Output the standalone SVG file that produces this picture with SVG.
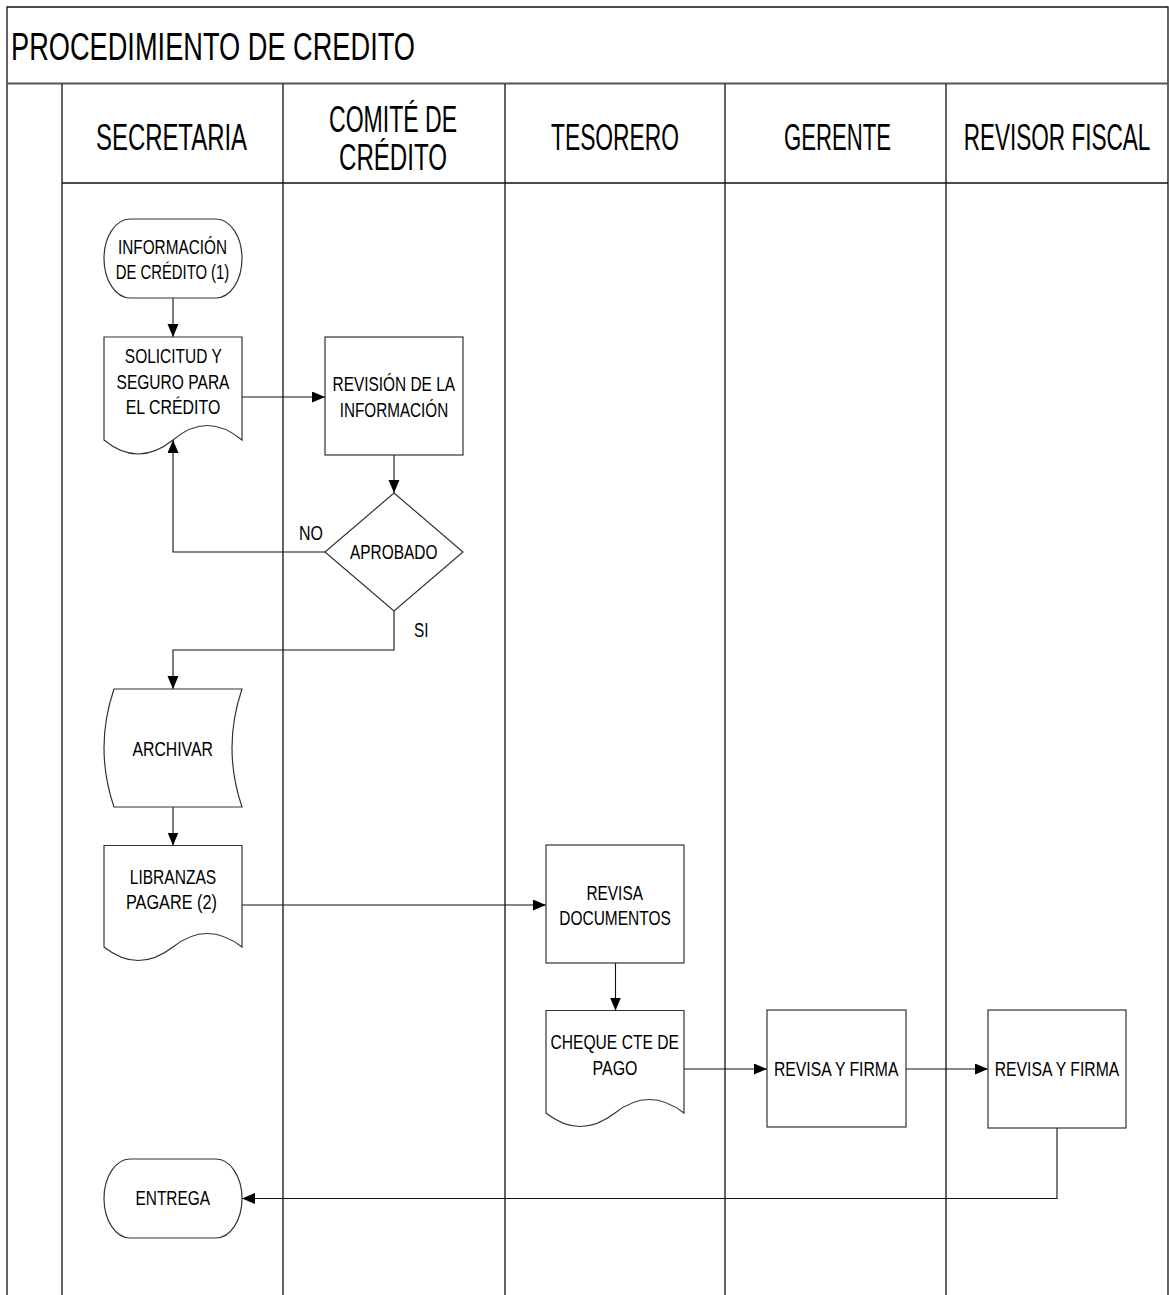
<svg xmlns="http://www.w3.org/2000/svg" width="1169" height="1295" viewBox="0 0 1169 1295">
<style>
.frame{fill:none;stroke:#111;stroke-width:1.3}
.sep{fill:none;stroke:#555;stroke-width:2.2}
.shape{fill:#fff;stroke:#333;stroke-width:1.2}
.conn{fill:none;stroke:#111;stroke-width:1.1}
.t{font-family:"Liberation Sans",Arial,sans-serif;font-size:21px;fill:#000;text-anchor:middle}
.h{font-family:"Liberation Sans",Arial,sans-serif;font-size:37px;fill:#000;text-anchor:middle}
.title{font-family:"Liberation Sans",Arial,sans-serif;font-size:38.5px;fill:#000}
</style>
<defs>
<marker id="arr" markerUnits="userSpaceOnUse" markerWidth="14" markerHeight="12" refX="13" refY="5.5" orient="auto">
<path d="M0,0 L13,5.5 L0,11 Z" fill="#000"/>
</marker>
</defs>
<rect x="0" y="0" width="1169" height="1295" fill="#fff"/>
<g id="frame">
<path class="frame" d="M7,1295 V7 H1168 V1295"/>
<path class="sep" d="M7,83.5 H1168"/>
<path class="frame" d="M62,84 V1295 M283,84 V1295 M505,84 V1295 M725,84 V1295 M946,84 V1295 M62,183 H1168"/>
<text class="title" x="11" y="60" textLength="404" lengthAdjust="spacingAndGlyphs">PROCEDIMIENTO DE CREDITO</text>
</g>
<g id="headers">
<text class="h" x="171.5" y="150" textLength="151" lengthAdjust="spacingAndGlyphs">SECRETARIA</text>
<text class="h" x="393" y="131.7" textLength="128" lengthAdjust="spacingAndGlyphs">COMITÉ DE</text>
<text class="h" x="393" y="170" textLength="108" lengthAdjust="spacingAndGlyphs">CRÉDITO</text>
<text class="h" x="615" y="150" textLength="128" lengthAdjust="spacingAndGlyphs">TESORERO</text>
<text class="h" x="837.5" y="150" textLength="107" lengthAdjust="spacingAndGlyphs">GERENTE</text>
<text class="h" x="0" y="0" transform="translate(1057,150) scale(0.61,1)">REVISOR FISCAL</text>
</g>
<g id="connectors">
<path class="conn" d="M173,298 V337" marker-end="url(#arr)"/>
<path class="conn" d="M242,397 H325" marker-end="url(#arr)"/>
<path class="conn" d="M394,455 V493" marker-end="url(#arr)"/>
<path class="conn" d="M325,552 H173 V440" marker-end="url(#arr)"/>
<path class="conn" d="M394,611 V650 H173 V689" marker-end="url(#arr)"/>
<path class="conn" d="M173,807 V845.5" marker-end="url(#arr)"/>
<path class="conn" d="M242,905 H546" marker-end="url(#arr)"/>
<path class="conn" d="M615.5,963 V1010.5" marker-end="url(#arr)"/>
<path class="conn" d="M684,1069 H767" marker-end="url(#arr)"/>
<path class="conn" d="M906,1069 H988" marker-end="url(#arr)"/>
<path class="conn" d="M1057,1128 V1198.5 H242" marker-end="url(#arr)"/>
<text class="t" x="311" y="540" textLength="24" lengthAdjust="spacingAndGlyphs">NO</text>
<text class="t" x="421.3" y="637" textLength="14.5" lengthAdjust="spacingAndGlyphs">SI</text>
</g>
<g id="n-info">
<rect class="shape" x="104" y="219" width="138" height="79" rx="26" ry="39.5"/>
<text class="t" x="172.5" y="253.5" textLength="109" lengthAdjust="spacingAndGlyphs">INFORMACIÓN</text>
<text class="t" x="172.5" y="278.5" textLength="113.5" lengthAdjust="spacingAndGlyphs">DE CRÉDITO (1)</text>
</g>
<g id="n-solicitud">
<path class="shape" d="M104,337 H242 V440 Q207,411 173,440 Q138,468 104,440 Z"/>
<text class="t" x="173.3" y="363" textLength="97" lengthAdjust="spacingAndGlyphs">SOLICITUD Y</text>
<text class="t" x="173" y="388.5" textLength="113" lengthAdjust="spacingAndGlyphs">SEGURO PARA</text>
<text class="t" x="173" y="414" textLength="94.5" lengthAdjust="spacingAndGlyphs">EL CRÉDITO</text>
</g>
<g id="n-revision">
<rect class="shape" x="325" y="337" width="138" height="118"/>
<text class="t" x="393.8" y="391" textLength="122.5" lengthAdjust="spacingAndGlyphs">REVISIÓN DE LA</text>
<text class="t" x="394" y="416.5" textLength="108.5" lengthAdjust="spacingAndGlyphs">INFORMACIÓN</text>
</g>
<g id="n-aprobado">
<path class="shape" d="M394,493 L463,552 L394,611 L325,552 Z"/>
<text class="t" x="393.7" y="559" textLength="87.5" lengthAdjust="spacingAndGlyphs">APROBADO</text>
</g>
<g id="n-archivar">
<path class="shape" d="M114,689 H242 Q222,748 242,807 H114 Q94,748 114,689 Z"/>
<text class="t" x="172.7" y="756" textLength="80.5" lengthAdjust="spacingAndGlyphs">ARCHIVAR</text>
</g>
<g id="n-libranzas">
<path class="shape" d="M104,845.5 H242 V947 Q207,920 173,947 Q138,974 104,947 Z"/>
<text class="t" x="173" y="883.5" textLength="86.5" lengthAdjust="spacingAndGlyphs">LIBRANZAS</text>
<text class="t" x="171.4" y="909" textLength="91" lengthAdjust="spacingAndGlyphs">PAGARE (2)</text>
</g>
<g id="n-revisa-doc">
<rect class="shape" x="546" y="845" width="138" height="118"/>
<text class="t" x="614.7" y="899.5" textLength="56.5" lengthAdjust="spacingAndGlyphs">REVISA</text>
<text class="t" x="615" y="925" textLength="111.5" lengthAdjust="spacingAndGlyphs">DOCUMENTOS</text>
</g>
<g id="n-cheque">
<path class="shape" d="M546,1010.5 H684 V1113 Q649,1086 615,1113 Q580,1140 546,1113 Z"/>
<text class="t" x="614.7" y="1048.5" textLength="128.5" lengthAdjust="spacingAndGlyphs">CHEQUE CTE DE</text>
<text class="t" x="615" y="1075" textLength="45" lengthAdjust="spacingAndGlyphs">PAGO</text>
</g>
<g id="n-gerente-firma">
<rect class="shape" x="767" y="1010" width="139" height="117"/>
<text class="t" x="836.2" y="1076" textLength="124.5" lengthAdjust="spacingAndGlyphs">REVISA Y FIRMA</text>
</g>
<g id="n-revisor-firma">
<rect class="shape" x="988" y="1010" width="138" height="118"/>
<text class="t" x="1057" y="1076" textLength="124.5" lengthAdjust="spacingAndGlyphs">REVISA Y FIRMA</text>
</g>
<g id="n-entrega">
<rect class="shape" x="104" y="1159" width="138" height="79" rx="26" ry="39.5"/>
<text class="t" x="172.8" y="1205" textLength="74.5" lengthAdjust="spacingAndGlyphs">ENTREGA</text>
</g>
</svg>
